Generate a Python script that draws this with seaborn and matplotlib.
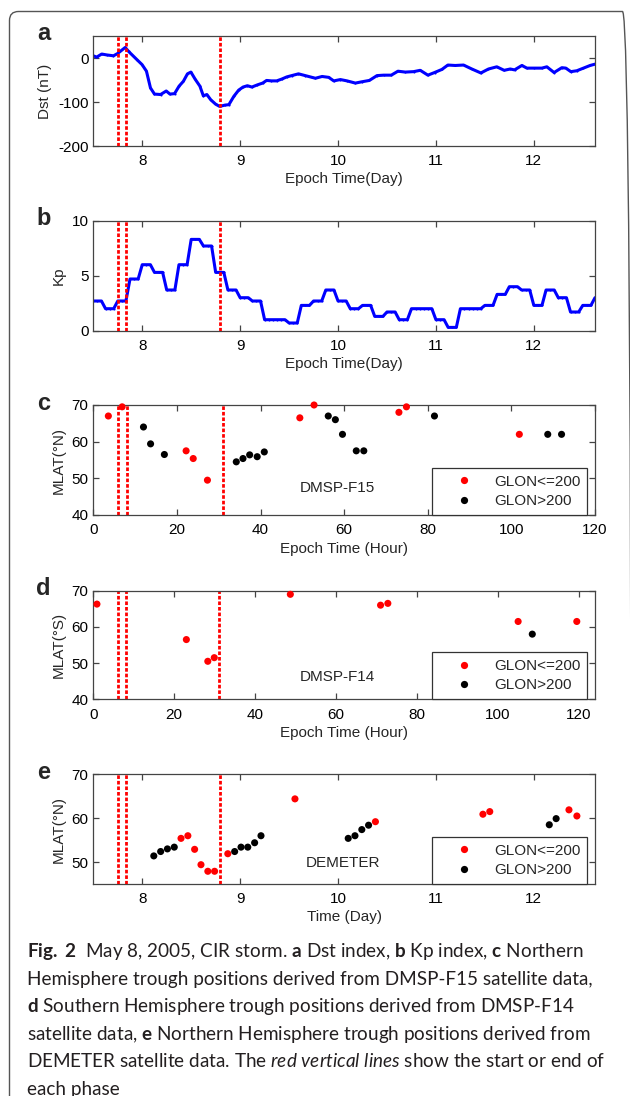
import numpy as np
import pandas as pd
import seaborn as sns
import matplotlib
matplotlib.use("Agg")
import matplotlib.pyplot as plt
from matplotlib.lines import Line2D
from matplotlib.patches import FancyBboxPatch
from matplotlib.transforms import IdentityTransform

# ---------------- data ----------------
dst_day = [7.50, 7.534, 7.586, 7.637, 7.706, 7.747, 7.826, 7.86, 7.947, 7.998,
           8.043, 8.084, 8.125, 8.187, 8.245, 8.283, 8.33, 8.376, 8.42, 8.462,
           8.497, 8.54, 8.589, 8.624, 8.66, 8.70, 8.75, 8.79, 8.847, 8.885,
           8.936, 8.985, 9.03, 9.074, 9.12, 9.177, 9.23, 9.27, 9.32, 9.373,
           9.424, 9.476, 9.527, 9.596, 9.665, 9.734, 9.769, 9.837, 9.905, 9.956,
           10.024, 10.092, 10.177, 10.245, 10.32, 10.398, 10.466, 10.544, 10.612, 10.687,
           10.772, 10.84, 10.918, 10.986, 11.061, 11.122, 11.197, 11.282, 11.367, 11.459,
           11.537, 11.622, 11.697, 11.759, 11.803, 11.878, 11.929, 11.997, 12.082, 12.133,
           12.207, 12.286, 12.327, 12.378, 12.439, 12.507, 12.575, 12.625]
dst_nt = [5, 2, 9, 7, 5, 10, 24, 15, -4, -15,
          -30, -68, -82, -83, -75, -82, -81, -64, -53, -36,
          -32, -48, -64, -86, -83, -95, -105, -110, -107, -106,
          -87, -73, -66, -63, -66, -61, -57, -51, -52, -52,
          -48, -43, -40, -36, -40, -44, -46, -42, -44, -52,
          -49, -52, -57, -54, -51, -40, -39, -39, -30, -32,
          -31, -28, -39, -33, -26, -16, -17, -16, -25, -34,
          -25, -20, -28, -25, -27, -17, -23, -23, -23, -20,
          -33, -22, -23, -31, -29, -23, -17, -14]

# 3-hourly Kp values starting at day 7.5
kp_3hour = [2.7, 2.0, 2.7, 4.7, 6.0, 5.3, 3.7, 6.0, 8.3, 7.7,
            5.3, 3.7, 3.0, 2.7, 1.0, 1.0, 0.7, 2.3, 2.7, 3.7,
            2.7, 2.0, 2.3, 1.3, 1.7, 1.0, 2.0, 2.0, 1.0, 0.3,
            2.0, 2.0, 2.3, 3.3, 4.0, 3.7, 2.3, 3.7, 3.0, 1.7,
            2.3, 3.0]

phase_day = [7.75, 7.833, 8.79]
phase_hour = [6.0, 8.0, 31.0]

f15_hour = [3.6, 6.9, 12.0, 13.7, 17.0, 22.2, 23.9, 27.3, 34.2, 35.8,
            37.4, 39.2, 40.9, 49.4, 52.8, 56.2, 57.9, 59.6, 62.9, 64.7,
            73.1, 74.9, 81.6, 101.9, 108.7, 112.0]
f15_mlat = [67.0, 69.5, 64.0, 59.4, 56.5, 57.5, 55.4, 49.5, 54.5, 55.4,
            56.4, 55.9, 57.2, 66.5, 70.0, 67.0, 66.0, 62.0, 57.5, 57.5,
            68.0, 69.5, 67.0, 62.0, 62.0, 62.0]
f15_group = ["GLON<=200", "GLON<=200", "GLON>200", "GLON>200", "GLON>200",
             "GLON<=200", "GLON<=200", "GLON<=200", "GLON>200", "GLON>200",
             "GLON>200", "GLON>200", "GLON>200", "GLON<=200", "GLON<=200",
             "GLON>200", "GLON>200", "GLON>200", "GLON>200", "GLON>200",
             "GLON<=200", "GLON<=200", "GLON>200", "GLON<=200", "GLON>200",
             "GLON>200"]

f14_hour = [0.9, 23.0, 28.3, 29.9, 48.7, 71.0, 72.8, 105.0, 108.5, 119.5]
f14_mlat = [66.3, 56.5, 50.5, 51.5, 69.0, 66.0, 66.5, 61.5, 58.0, 61.5]
f14_group = ["GLON<=200", "GLON<=200", "GLON<=200", "GLON<=200", "GLON<=200",
             "GLON<=200", "GLON<=200", "GLON<=200", "GLON>200", "GLON<=200"]

dem_day = [8.118, 8.188, 8.257, 8.327, 8.396, 8.466, 8.535, 8.60, 8.67, 8.739,
           8.874, 8.944, 9.009, 9.078, 9.148, 9.213, 9.56, 10.104, 10.173, 10.243,
           10.312, 10.382, 11.48, 11.55, 12.158, 12.228, 12.359, 12.44]
dem_mlat = [51.4, 52.4, 53.0, 53.4, 55.4, 56.0, 52.9, 49.4, 47.9, 47.9,
            51.9, 52.4, 53.4, 53.4, 54.4, 56.0, 64.4, 55.4, 56.0, 57.4,
            58.4, 59.2, 60.9, 61.5, 58.5, 59.9, 61.9, 60.5]
dem_group = ["GLON>200", "GLON>200", "GLON>200", "GLON>200", "GLON<=200",
             "GLON<=200", "GLON<=200", "GLON<=200", "GLON<=200", "GLON<=200",
             "GLON<=200", "GLON>200", "GLON>200", "GLON>200", "GLON>200",
             "GLON>200", "GLON<=200", "GLON>200", "GLON>200", "GLON>200",
             "GLON>200", "GLON<=200", "GLON<=200", "GLON<=200", "GLON>200",
             "GLON>200", "GLON<=200", "GLON<=200"]

groups = ["GLON<=200", "GLON>200"]
group_colors = {"GLON<=200": "#ff0000", "GLON>200": "#000000"}

caption_lines = [
    r"$\mathbf{Fig.\ 2}$  May 8, 2005, CIR storm. $\mathbf{a}$ Dst index, $\mathbf{b}$ Kp index, $\mathbf{c}$ Northern",
    "Hemisphere trough positions derived from DMSP-F15 satellite data,",
    r"$\mathbf{d}$ Southern Hemisphere trough positions derived from DMSP-F14",
    r"satellite data, $\mathbf{e}$ Northern Hemisphere trough positions derived from",
    r"DEMETER satellite data. The $\mathit{red\ vertical\ lines}$ show the start or end of",
    "each phase",
]

# ---------------- style ----------------
sns.set_style("ticks")
plt.rcParams["font.family"] = ["Liberation Sans", "DejaVu Sans"]
plt.rcParams.update({
    "axes.unicode_minus": False,
    "xtick.direction": "in", "ytick.direction": "in",
    "xtick.top": True, "ytick.right": True,
    "xtick.major.size": 4, "ytick.major.size": 4,
    "xtick.major.width": 0.9, "ytick.major.width": 0.9,
    "xtick.major.pad": 6, "ytick.major.pad": 3.5,
    "xtick.labelsize": 11, "ytick.labelsize": 11,
    "axes.labelsize": 11, "axes.edgecolor": "#444444",
    "axes.linewidth": 0.9, "xtick.color": "#444444", "ytick.color": "#444444",
    "xtick.labelcolor": "black", "ytick.labelcolor": "black",
    "mathtext.fontset": "custom",
    "mathtext.rm": "Lato",
    "mathtext.bf": "Lato:bold",
    "mathtext.it": "Lato:italic",
})

W, H = 630, 1096
fig = plt.figure(figsize=(W / 100, H / 100), dpi=100)


def axes_px(left, top, right, bottom):
    return fig.add_axes([left / W, 1 - bottom / H, (right - left) / W, (bottom - top) / H])


ax_a = axes_px(93.3, 36, 595, 146)
ax_b = axes_px(93.3, 220.7, 595, 330.7)
ax_c = axes_px(93.3, 405, 595, 515)
ax_d = axes_px(93.3, 590.7, 595, 699.3)
ax_e = axes_px(93.3, 774.3, 595, 884)

red_ls = (0, (1.3, 0.7))

# a: Dst
sns.lineplot(x=dst_day, y=dst_nt, ax=ax_a, color="#0000ff", lw=2.2,
             marker=".", markersize=3, markeredgewidth=0)
ax_a.set_xlim(7.5, 12.625)
ax_a.set_ylim(-200, 50)
ax_a.set_yticks([-200, -100, 0])
ax_a.set_xticks([8, 9, 10, 11, 12])
ax_a.set_xlabel("Epoch Time(Day)")
ax_a.set_ylabel("Dst (nT)")

# b: Kp (3-hourly values sampled hourly)
kp_hourly = np.repeat(kp_3hour, 3)[:124]
kp_day = 7.5 + np.arange(len(kp_hourly)) / 24.0
sns.lineplot(x=kp_day, y=kp_hourly, ax=ax_b, color="#0000ff", lw=2.2,
             marker=".", markersize=3, markeredgewidth=0)
ax_b.set_xlim(7.5, 12.625)
ax_b.set_ylim(0, 10)
ax_b.set_yticks([0, 5, 10])
ax_b.set_xticks([8, 9, 10, 11, 12])
ax_b.set_xlabel("Epoch Time(Day)")
ax_b.set_ylabel("Kp")

for ax in (ax_a, ax_b, ax_e):
    for x in phase_day:
        ax.axvline(x, color="#ff0000", lw=2.0, ls=red_ls, zorder=5)
for ax in (ax_c, ax_d):
    for x in phase_hour:
        ax.axvline(x, color="#ff0000", lw=2.0, ls=red_ls, zorder=1)


def scatter_panel(ax, xs, ys, gs):
    df = pd.DataFrame({"x": xs, "y": ys, "g": gs})
    sns.scatterplot(data=df, x="x", y="y", hue="g", hue_order=groups,
                    palette=group_colors, s=26, edgecolor="none", ax=ax,
                    legend=False, clip_on=False, zorder=4)
    handles = [Line2D([], [], ls="none", marker="o", markersize=5.2,
                      markerfacecolor=group_colors[g], markeredgecolor="none")
               for g in groups]
    leg = ax.legend(handles, groups, loc="lower right", bbox_to_anchor=(0.985, 0.0),
                    borderaxespad=0, frameon=True, fancybox=False, fontsize=11,
                    borderpad=0.45, handlelength=3.4, handletextpad=0.25,
                    labelspacing=0.35, framealpha=1)
    leg.get_frame().set_edgecolor("#333333")
    leg.get_frame().set_linewidth(0.9)
    ax.set_xlabel("")
    ax.set_ylabel("")


# c
scatter_panel(ax_c, f15_hour, f15_mlat, f15_group)
ax_c.set_xlim(0, 120)
ax_c.set_ylim(40, 70)
ax_c.set_yticks([40, 50, 60, 70])
ax_c.set_xticks([0, 20, 40, 60, 80, 100, 120])
ax_c.set_xlabel("Epoch Time (Hour)")
ax_c.set_ylabel("MLAT(°N)")
ax_c.text(0.486, 0.245, "DMSP-F15", transform=ax_c.transAxes, ha="center",
          va="center", fontsize=11)

# d
scatter_panel(ax_d, f14_hour, f14_mlat, f14_group)
ax_d.set_xlim(0, 124)
ax_d.set_ylim(40, 70)
ax_d.set_yticks([40, 50, 60, 70])
ax_d.set_xticks([0, 20, 40, 60, 80, 100, 120])
ax_d.set_xlabel("Epoch Time (Hour)")
ax_d.set_ylabel("MLAT(°S)")
ax_d.text(0.486, 0.203, "DMSP-F14", transform=ax_d.transAxes, ha="center",
          va="center", fontsize=11)

# e
scatter_panel(ax_e, dem_day, dem_mlat, dem_group)
ax_e.set_xlim(7.5, 12.625)
ax_e.set_ylim(45, 70)
ax_e.set_yticks([50, 60, 70])
ax_e.set_xticks([8, 9, 10, 11, 12])
ax_e.set_xlabel("Time (Day)")
ax_e.set_ylabel("MLAT(°N)")
ax_e.text(0.498, 0.194, "DEMETER", transform=ax_e.transAxes, ha="center",
          va="center", fontsize=11)

for ax in (ax_a, ax_b, ax_c, ax_d, ax_e):
    for sp in ax.spines.values():
        sp.set_visible(True)
        sp.set_color("#444444")
        sp.set_linewidth(0.9)
    ax.xaxis.labelpad = 3
    ax.yaxis.labelpad = 4

# panel letters
for letter, top in zip("abcde", [36, 220.7, 405, 590.7, 774.3]):
    fig.text(43.5, H - (top + 4.5), letter, transform=IdentityTransform(),
             ha="center", va="baseline", fontsize=17, fontweight="bold")

# outer frame
frame = FancyBboxPatch((9.5, -40), 622, 1084.5 + 40, boxstyle="round,pad=0,rounding_size=9",
                       transform=IdentityTransform(), fill=False, ec="#555555", lw=1.0)
fig.add_artist(frame)

# caption
renderer = fig.canvas.get_renderer()
cap_kw = dict(family=["Lato", "DejaVu Sans"], color="#231f20", ha="left", va="baseline",
              transform=IdentityTransform())
probe = fig.text(0, 0, caption_lines[0], fontsize=12, **cap_kw)
w0 = probe.get_window_extent(renderer).width
probe.remove()
cap_size = 12 * 555.0 / w0
for i, line in enumerate(caption_lines):
    fig.text(27.3, H - (957 + 27.6 * i), line, fontsize=cap_size, **cap_kw)

fig.savefig("out.png", dpi=100)
